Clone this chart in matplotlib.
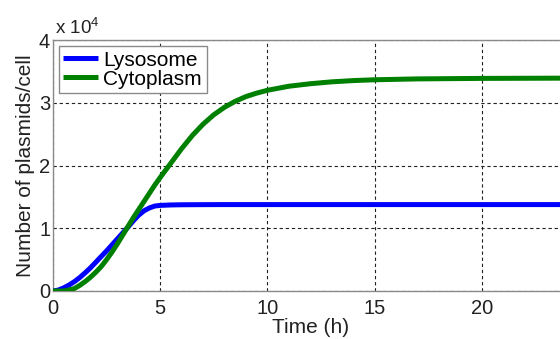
import matplotlib
matplotlib.use("Agg")
import matplotlib.pyplot as plt
from matplotlib.ticker import FuncFormatter

plt.rcParams['font.family'] = ['Liberation Sans', 'DejaVu Sans']
plt.rcParams['mathtext.fontset'] = 'custom'
plt.rcParams['mathtext.rm'] = 'Liberation Sans'

# Plasmid counts per cell over time (hours)
t_lyso = [0, 0.25, 0.5, 0.75, 1, 1.25, 1.5, 1.75, 2, 2.25, 2.5, 2.75, 3, 3.25,
          3.5, 3.75, 4, 4.25, 4.5, 4.75, 5, 5.5, 6, 7, 8, 10, 15, 20, 25]
lysosome = [0, 150, 500, 950, 1500, 2150, 2900, 3700, 4600, 5500, 6400, 7350,
            8300, 9250, 10200, 11200, 12100, 12800, 13250, 13550, 13650, 13720,
            13750, 13770, 13780, 13780, 13780, 13780, 13780]

t_cyto = [0, 0.5, 0.8, 1, 1.25, 1.5, 1.75, 2, 2.25, 2.5, 2.75, 3, 3.25, 3.5,
          3.75, 4, 4.25, 4.5, 4.75, 5, 5.5, 6, 6.5, 7, 7.5, 8, 8.5, 9, 9.5,
          10, 11, 12, 13, 14, 15, 17, 20, 25]
cytoplasm = [0, 0, 200, 400, 900, 1500, 2200, 3000, 3900, 5000, 6200, 7500,
             8900, 10300, 11700, 13000, 14300, 15600, 16900, 18100, 20400,
             22700, 24800, 26600, 28100, 29300, 30250, 31000, 31550, 32000,
             32650, 33050, 33350, 33550, 33680, 33820, 33900, 33950]

x_ticks = [0, 5, 10, 15, 20]
y_ticks = [0, 10000, 20000, 30000, 40000]

fig = plt.figure(figsize=(5.6, 3.39), dpi=100)
ax = fig.add_axes([0.0946, 0.1416, 0.919, 0.740])

ax.plot(t_lyso, lysosome, color=(0, 0, 1), lw=3.6, label='Lysosome',
        solid_capstyle='butt', zorder=3)
ax.plot(t_cyto, cytoplasm, color=(0, 0.5, 0), lw=3.6, label='Cytoplasm',
        solid_capstyle='butt', zorder=3)

ax.set_xlim(0, 24)
ax.set_ylim(0, 40000)
ax.set_xticks(x_ticks)
ax.set_yticks(y_ticks)
ax.yaxis.set_major_formatter(FuncFormatter(lambda v, p: f"{v / 1e4:g}"))
ax.tick_params(labelsize=14.5, direction='in', length=0, colors='#222222')
ax.tick_params(axis='x', pad=6)
ax.tick_params(axis='y', pad=2)

ax.grid(True, color='#222222', lw=0.8, linestyle=(0, (3, 2.5)))
ax.set_axisbelow(True)
for s in ax.spines.values():
    s.set_color('#8a8a8a')
    s.set_linewidth(1.0)

ax.set_xlabel('Time (h)', fontsize=15, labelpad=0, color='#222222')
ax.set_ylabel('Number of plasmids/cell', fontsize=15, labelpad=3, color='#222222')

ax.text(0.004, 1.024, r'x 10$^{\mathregular{4}}$', transform=ax.transAxes,
        fontsize=13.5, ha='left', va='baseline', color='#222222')

leg = ax.legend(loc='upper left', fontsize=15, handlelength=1.68,
                handletextpad=0.24, borderpad=0.22, labelspacing=0.0,
                borderaxespad=0.28, fancybox=False, framealpha=1)
leg.get_frame().set_edgecolor('#8a8a8a')
leg.get_frame().set_linewidth(1.0)

fig.savefig('out.png', dpi=100)
